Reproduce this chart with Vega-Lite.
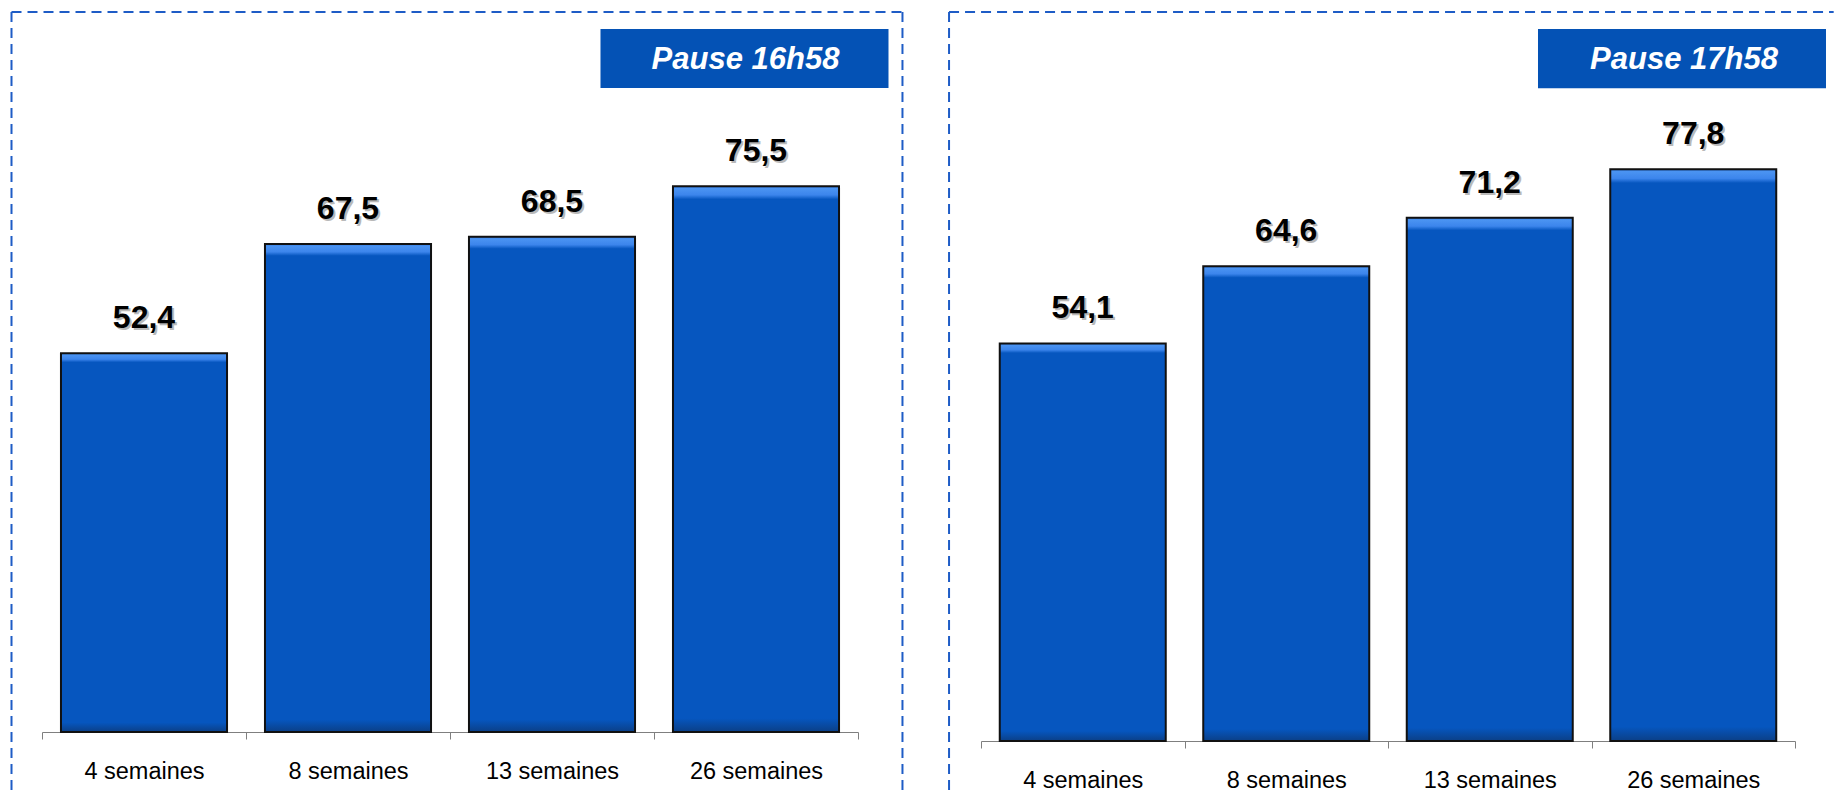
{
  "$schema": "https://vega.github.io/schema/vega-lite/v6.json",
  "background": "white",
  "padding": {"left": 10, "top": 11, "right": 0, "bottom": 0},
  "spacing": 44,
  "config": {
    "view": {"stroke": null},
    "font": "Liberation Sans",
    "locale": {"number": {"decimal": ",", "thousands": " ", "grouping": [3], "currency": ["", " €"]}},
    "axisX": {"labelAngle": 0, "labelFontSize": 23.5, "labelColor": "#000000", "labelFont": "Liberation Sans", "labelBaseline": "alphabetic", "labelPadding": 39, "tickSize": 7, "tickColor": "#7F7F7F", "domainColor": "#7F7F7F", "tickBand": "extent", "grid": false}
  },
  "datasets": {
    "barres": [
      {"pause": "Pause 16h58", "periode": "4 semaines", "valeur": 52.4},
      {"pause": "Pause 16h58", "periode": "8 semaines", "valeur": 67.5},
      {"pause": "Pause 16h58", "periode": "13 semaines", "valeur": 68.5},
      {"pause": "Pause 16h58", "periode": "26 semaines", "valeur": 75.5},
      {"pause": "Pause 17h58", "periode": "4 semaines", "valeur": 54.1},
      {"pause": "Pause 17h58", "periode": "8 semaines", "valeur": 64.6},
      {"pause": "Pause 17h58", "periode": "13 semaines", "valeur": 71.2},
      {"pause": "Pause 17h58", "periode": "26 semaines", "valeur": 77.8}
    ],
    "titreA": [{"titre": "Pause 16h58"}],
    "titreB": [{"titre": "Pause 17h58"}]
  },
  "hconcat": [
    {
      "width": 816,
      "height": 720,
      "layer": [
        {
          "data": {"name": "barres"},
          "transform": [{"filter": "datum.pause === 'Pause 16h58'"}],
          "mark": {
            "type": "bar",
            "width": {"band": 0.814},
            "stroke": "#111111",
            "strokeWidth": 2,
            "fill": {"gradient": "linear", "x1": 0, "y1": 0, "x2": 0, "y2": 1, "stops": [
              {"offset": 0, "color": "#2A72DA"},
              {"offset": 0.004, "color": "#4B94F2"},
              {"offset": 0.016, "color": "#3C85EC"},
              {"offset": 0.024, "color": "#0656BF"},
              {"offset": 0.975, "color": "#0656BF"},
              {"offset": 1, "color": "#0B3F86"}
            ]}
          },
          "encoding": {
            "x": {"field": "periode", "type": "nominal", "sort": null, "title": null,
              "scale": {"type": "band", "domain": ["4 semaines", "8 semaines", "13 semaines", "26 semaines"], "paddingInner": 0, "paddingOuter": 0}},
            "y": {"field": "valeur", "type": "quantitative", "axis": null, "scale": {"domain": [0, 99.6], "nice": false, "zero": false}}
          }
        },
        {
          "data": {"name": "barres"},
          "transform": [{"filter": "datum.pause === 'Pause 16h58'"}],
          "mark": {"type": "text", "color": "#808080", "opacity": 0.55, "fontSize": 32, "fontWeight": "bold", "baseline": "alphabetic", "dy": -23, "dx": 2},
          "encoding": {
            "x": {"field": "periode", "type": "nominal", "title": null, "scale": {"type": "band", "domain": ["4 semaines", "8 semaines", "13 semaines", "26 semaines"], "paddingInner": 0, "paddingOuter": 0}},
            "y": {"field": "valeur", "type": "quantitative", "axis": null, "scale": {"domain": [0, 99.6], "nice": false, "zero": false}},
            "text": {"field": "valeur", "type": "quantitative", "format": ".1f"}
          }
        },
        {
          "data": {"name": "barres"},
          "transform": [{"filter": "datum.pause === 'Pause 16h58'"}],
          "mark": {"type": "text", "color": "#000000", "fontSize": 32, "fontWeight": "bold", "baseline": "alphabetic", "dy": -25},
          "encoding": {
            "x": {"field": "periode", "type": "nominal", "title": null, "scale": {"type": "band", "domain": ["4 semaines", "8 semaines", "13 semaines", "26 semaines"], "paddingInner": 0, "paddingOuter": 0}},
            "y": {"field": "valeur", "type": "quantitative", "axis": null, "scale": {"domain": [0, 99.6], "nice": false, "zero": false}},
            "text": {"field": "valeur", "type": "quantitative", "format": ".1f"}
          }
        },
        {
          "data": {"name": "titreA"},
          "mark": {"type": "rule", "stroke": "#1E5CC6", "strokeWidth": 2, "strokeDash": [10, 6]},
          "encoding": {
            "x": {"datum": "4 semaines", "bandPosition": -0.1495, "title": null, "scale": {"type": "band", "domain": ["4 semaines", "8 semaines", "13 semaines", "26 semaines"], "paddingInner": 0, "paddingOuter": 0}},
            "y": {"datum": 99.6, "axis": null, "scale": {"domain": [0, 99.6], "nice": false, "zero": false}},
            "y2": {"datum": -8.8}
          }
        },
        {
          "data": {"name": "titreA"},
          "mark": {"type": "rule", "stroke": "#1E5CC6", "strokeWidth": 2, "strokeDash": [10, 6]},
          "encoding": {
            "x": {"datum": "26 semaines", "bandPosition": 1.218, "title": null, "scale": {"type": "band", "domain": ["4 semaines", "8 semaines", "13 semaines", "26 semaines"], "paddingInner": 0, "paddingOuter": 0}},
            "y": {"datum": 99.6, "axis": null, "scale": {"domain": [0, 99.6], "nice": false, "zero": false}},
            "y2": {"datum": -8.8}
          }
        },
        {
          "data": {"name": "titreA"},
          "mark": {"type": "rule", "stroke": "#1E5CC6", "strokeWidth": 2, "strokeDash": [10, 6]},
          "encoding": {
            "x": {"datum": "4 semaines", "bandPosition": -0.1495, "title": null, "scale": {"type": "band", "domain": ["4 semaines", "8 semaines", "13 semaines", "26 semaines"], "paddingInner": 0, "paddingOuter": 0}},
            "x2": {"datum": "26 semaines", "bandPosition": 1.218},
            "y": {"datum": 99.6, "axis": null, "scale": {"domain": [0, 99.6], "nice": false, "zero": false}}
          }
        },
        {
          "data": {"name": "titreA"},
          "mark": {"type": "rect", "fill": "#0452B5"},
          "encoding": {
            "x": {"datum": "26 semaines", "bandPosition": -0.2623, "title": null, "scale": {"type": "band", "domain": ["4 semaines", "8 semaines", "13 semaines", "26 semaines"], "paddingInner": 0, "paddingOuter": 0}},
            "x2": {"datum": "26 semaines", "bandPosition": 1.1495},
            "y": {"datum": 97.26, "axis": null, "scale": {"domain": [0, 99.6], "nice": false, "zero": false}},
            "y2": {"datum": 89.1}
          }
        },
        {
          "data": {"name": "titreA"},
          "mark": {"type": "text", "color": "white", "fontSize": 31, "fontWeight": "bold", "fontStyle": "italic", "align": "center", "baseline": "alphabetic"},
          "encoding": {
            "x": {"datum": "26 semaines", "bandPosition": 0.4485, "title": null, "scale": {"type": "band", "domain": ["4 semaines", "8 semaines", "13 semaines", "26 semaines"], "paddingInner": 0, "paddingOuter": 0}},
            "y": {"datum": 91.7, "axis": null, "scale": {"domain": [0, 99.6], "nice": false, "zero": false}},
            "text": {"field": "titre"}
          }
        }
      ]
    },
    {
      "width": 814,
      "height": 729,
      "layer": [
        {
          "data": {"name": "barres"},
          "transform": [{"filter": "datum.pause === 'Pause 17h58'"}],
          "mark": {
            "type": "bar",
            "width": {"band": 0.8157},
            "stroke": "#111111",
            "strokeWidth": 2,
            "fill": {"gradient": "linear", "x1": 0, "y1": 0, "x2": 0, "y2": 1, "stops": [
              {"offset": 0, "color": "#2A72DA"},
              {"offset": 0.004, "color": "#4B94F2"},
              {"offset": 0.016, "color": "#3C85EC"},
              {"offset": 0.024, "color": "#0656BF"},
              {"offset": 0.975, "color": "#0656BF"},
              {"offset": 1, "color": "#0B3F86"}
            ]}
          },
          "encoding": {
            "x": {"field": "periode", "type": "nominal", "sort": null, "title": null,
              "scale": {"type": "band", "domain": ["4 semaines", "8 semaines", "13 semaines", "26 semaines"], "paddingInner": 0, "paddingOuter": 0}},
            "y": {"field": "valeur", "type": "quantitative", "axis": null, "scale": {"domain": [0, 99.2], "nice": false, "zero": false}}
          }
        },
        {
          "data": {"name": "barres"},
          "transform": [{"filter": "datum.pause === 'Pause 17h58'"}],
          "mark": {"type": "text", "color": "#808080", "opacity": 0.55, "fontSize": 32, "fontWeight": "bold", "baseline": "alphabetic", "dy": -23, "dx": 2},
          "encoding": {
            "x": {"field": "periode", "type": "nominal", "title": null, "scale": {"type": "band", "domain": ["4 semaines", "8 semaines", "13 semaines", "26 semaines"], "paddingInner": 0, "paddingOuter": 0}},
            "y": {"field": "valeur", "type": "quantitative", "axis": null, "scale": {"domain": [0, 99.2], "nice": false, "zero": false}},
            "text": {"field": "valeur", "type": "quantitative", "format": ".1f"}
          }
        },
        {
          "data": {"name": "barres"},
          "transform": [{"filter": "datum.pause === 'Pause 17h58'"}],
          "mark": {"type": "text", "color": "#000000", "fontSize": 32, "fontWeight": "bold", "baseline": "alphabetic", "dy": -25},
          "encoding": {
            "x": {"field": "periode", "type": "nominal", "title": null, "scale": {"type": "band", "domain": ["4 semaines", "8 semaines", "13 semaines", "26 semaines"], "paddingInner": 0, "paddingOuter": 0}},
            "y": {"field": "valeur", "type": "quantitative", "axis": null, "scale": {"domain": [0, 99.2], "nice": false, "zero": false}},
            "text": {"field": "valeur", "type": "quantitative", "format": ".1f"}
          }
        },
        {
          "data": {"name": "titreB"},
          "mark": {"type": "rule", "stroke": "#1E5CC6", "strokeWidth": 2, "strokeDash": [10, 6]},
          "encoding": {
            "x": {"datum": "4 semaines", "bandPosition": -0.157, "title": null, "scale": {"type": "band", "domain": ["4 semaines", "8 semaines", "13 semaines", "26 semaines"], "paddingInner": 0, "paddingOuter": 0}},
            "y": {"datum": 99.2, "axis": null, "scale": {"domain": [0, 99.2], "nice": false, "zero": false}},
            "y2": {"datum": -7.4}
          }
        },
        {
          "data": {"name": "titreB"},
          "mark": {"type": "rule", "stroke": "#1E5CC6", "strokeWidth": 2, "strokeDash": [10, 6]},
          "encoding": {
            "x": {"datum": "4 semaines", "bandPosition": -0.157, "title": null, "scale": {"type": "band", "domain": ["4 semaines", "8 semaines", "13 semaines", "26 semaines"], "paddingInner": 0, "paddingOuter": 0}},
            "x2": {"datum": "26 semaines", "bandPosition": 1.19},
            "y": {"datum": 99.2, "axis": null, "scale": {"domain": [0, 99.2], "nice": false, "zero": false}}
          }
        },
        {
          "data": {"name": "titreB"},
          "mark": {"type": "rect", "fill": "#0452B5"},
          "encoding": {
            "x": {"datum": "26 semaines", "bandPosition": -0.2629, "title": null, "scale": {"type": "band", "domain": ["4 semaines", "8 semaines", "13 semaines", "26 semaines"], "paddingInner": 0, "paddingOuter": 0}},
            "x2": {"datum": "26 semaines", "bandPosition": 1.1523},
            "y": {"datum": 96.87, "axis": null, "scale": {"domain": [0, 99.2], "nice": false, "zero": false}},
            "y2": {"datum": 88.84}
          }
        },
        {
          "data": {"name": "titreB"},
          "mark": {"type": "text", "color": "white", "fontSize": 31, "fontWeight": "bold", "fontStyle": "italic", "align": "center", "baseline": "alphabetic"},
          "encoding": {
            "x": {"datum": "26 semaines", "bandPosition": 0.4545, "title": null, "scale": {"type": "band", "domain": ["4 semaines", "8 semaines", "13 semaines", "26 semaines"], "paddingInner": 0, "paddingOuter": 0}},
            "y": {"datum": 91.43, "axis": null, "scale": {"domain": [0, 99.2], "nice": false, "zero": false}},
            "text": {"field": "titre"}
          }
        }
      ]
    }
  ]
}
